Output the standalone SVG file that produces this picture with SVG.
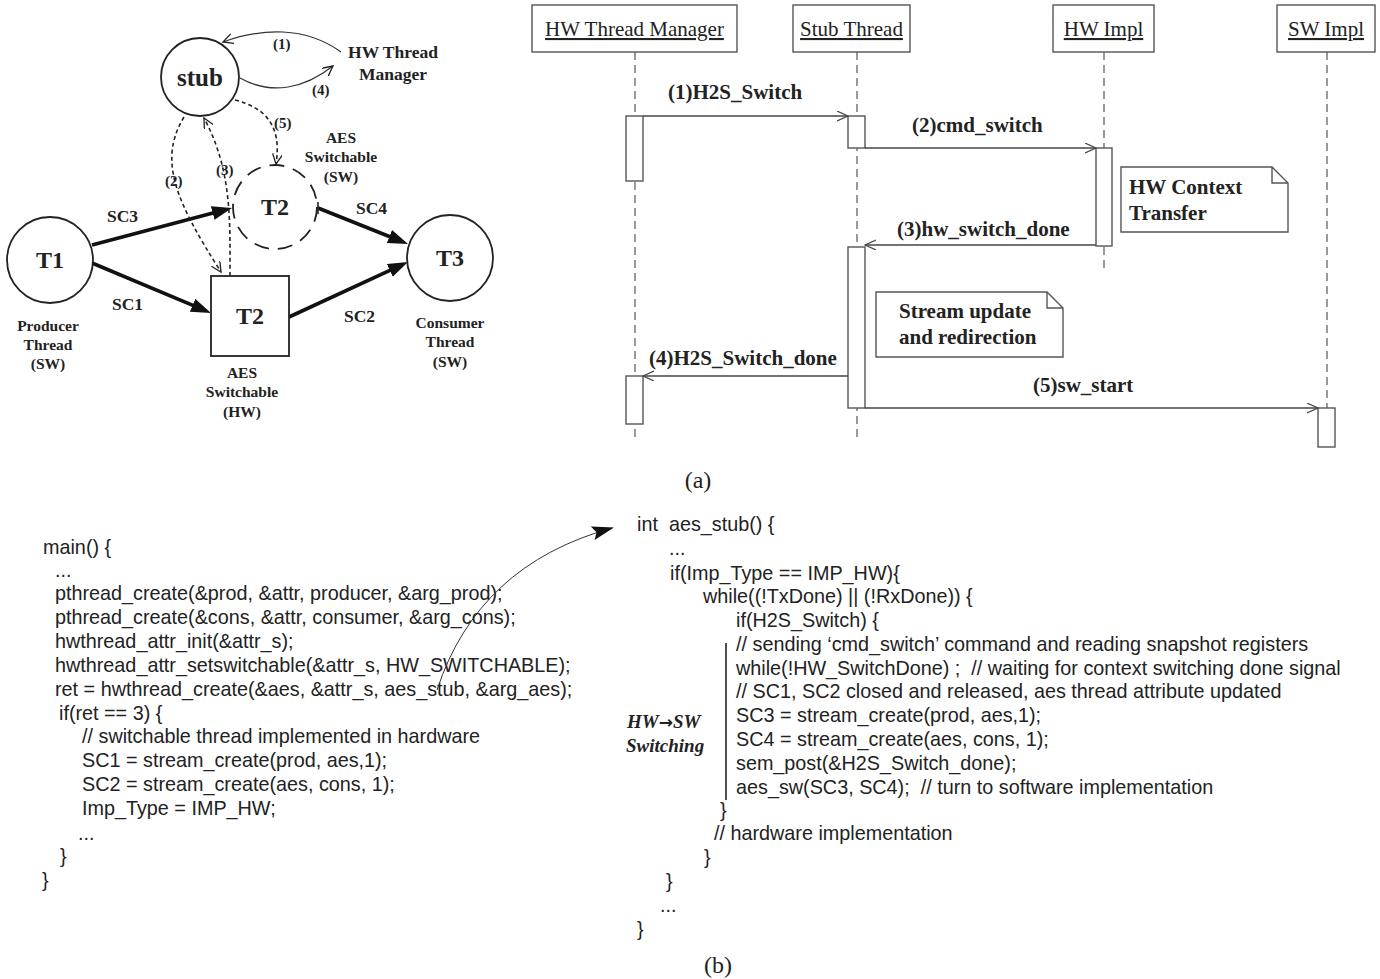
<svg xmlns="http://www.w3.org/2000/svg" width="1380" height="979" viewBox="0 0 1380 979">
<style>
.bg{fill:#ffffff}
.ser{font-family:"Liberation Serif","Times New Roman",serif;fill:#222}
.b{font-weight:bold}
.code{font-family:"Liberation Sans",Arial,sans-serif;font-size:19.8px;fill:#222;white-space:pre}
.node{fill:#fff;stroke:#222;stroke-width:1.8}
.thick{stroke:#111;stroke-width:3.6;fill:none}
.thin{stroke:#333;stroke-width:1.2;fill:none}
.dash{stroke:#222;stroke-width:1.6;fill:none;stroke-dasharray:4 3}
.life{stroke:#555;stroke-width:1.2;stroke-dasharray:8 5;fill:none}
.box{fill:#fff;stroke:#555;stroke-width:1.4}
.msg{stroke:#444;stroke-width:1.3;fill:none}
</style>
<defs>
<marker id="fill" markerUnits="userSpaceOnUse" markerWidth="22" markerHeight="16" refX="12" refY="7" orient="auto"><path d="M0,0 L20,7 L0,14 z" fill="#111"/></marker>
<marker id="open" markerUnits="userSpaceOnUse" markerWidth="14" markerHeight="14" refX="10" refY="5" orient="auto"><path d="M0,0 L10,5 L0,10" fill="none" stroke="#222" stroke-width="1.3"/></marker>
<marker id="open2" markerUnits="userSpaceOnUse" markerWidth="14" markerHeight="14" refX="11" refY="5" orient="auto"><path d="M0,0 L11,5 L0,10" fill="none" stroke="#444" stroke-width="1.2"/></marker>
<marker id="tri" markerUnits="userSpaceOnUse" markerWidth="24" markerHeight="16" refX="20" refY="7" orient="auto"><path d="M0,0 L22,7 L0,14 L4,7 z" fill="#111"/></marker>
</defs>
<rect class="bg" x="0" y="0" width="1380" height="979"/>

<!-- Top-left graph connectors -->
<g id="graph-connectors">
<path class="thick" d="M92,245 L224.3,210" marker-end="url(#fill)"/>
<path class="thick" d="M92,263 L203.6,309.9" marker-end="url(#fill)"/>
<path class="thick" d="M318,208 L400.6,241" marker-end="url(#fill)"/>
<line x1="318" y1="202" x2="318" y2="214" stroke="#222" stroke-width="1.6"/>
<path class="thick" d="M289,317 L400.7,265.4" marker-end="url(#fill)"/>
<path class="thin" d="M341,52 C305,26 262,28 223,42" marker-end="url(#open)"/>
<path class="thin" d="M240,78 C272,96 305,88 333,66" marker-end="url(#open)"/>
<path class="dash" d="M235,100 C266,108 282,126 276,164" marker-end="url(#open)"/>
<path class="dash" d="M184,117 C158,160 175,200 221,272" marker-end="url(#open)"/>
<path class="dash" d="M230,276 C230,220 232,170 204,118" marker-end="url(#open)"/>
</g>

<g id="node-stub"><circle class="node" cx="200" cy="77" r="39"/><text class="ser b" x="200" y="86" font-size="25" text-anchor="middle">stub</text></g>
<g id="node-hwtm"><text class="ser b" font-size="17.5" text-anchor="middle"><tspan x="393" y="58">HW Thread</tspan><tspan x="393" y="80">Manager</tspan></text></g>
<g id="node-t1"><circle class="node" cx="50" cy="260" r="43"/><text class="ser b" x="50" y="268" font-size="24" text-anchor="middle">T1</text>
<text class="ser b" font-size="15.5" text-anchor="middle"><tspan x="48" y="331">Producer</tspan><tspan x="48" y="350">Thread</tspan><tspan x="48" y="369">(SW)</tspan></text></g>
<g id="node-t2sw"><circle cx="275" cy="207" r="42" fill="#fff" stroke="#222" stroke-width="1.8" stroke-dasharray="15 9"/><text class="ser b" x="275" y="215" font-size="24" text-anchor="middle">T2</text>
<text class="ser b" font-size="15.5" text-anchor="middle"><tspan x="341" y="143">AES</tspan><tspan x="341" y="162">Switchable</tspan><tspan x="341" y="182">(SW)</tspan></text></g>
<g id="node-t2hw"><rect class="node" x="211" y="276" width="78" height="80"/><text class="ser b" x="250" y="324" font-size="24" text-anchor="middle">T2</text>
<text class="ser b" font-size="15.5" text-anchor="middle"><tspan x="242" y="378">AES</tspan><tspan x="242" y="397">Switchable</tspan><tspan x="242" y="417">(HW)</tspan></text></g>
<g id="node-t3"><circle class="node" cx="450" cy="258" r="43"/><text class="ser b" x="450" y="266" font-size="24" text-anchor="middle">T3</text>
<text class="ser b" font-size="15.5" text-anchor="middle"><tspan x="450" y="328">Consumer</tspan><tspan x="450" y="347">Thread</tspan><tspan x="450" y="367">(SW)</tspan></text></g>
<g id="graph-labels" class="ser b" font-size="17.5">
<text x="107" y="222">SC3</text><text x="112" y="310">SC1</text><text x="356" y="214">SC4</text><text x="344" y="322">SC2</text>
<text x="273" y="49" font-size="15">(1)</text><text x="312" y="95" font-size="15">(4)</text><text x="274" y="128" font-size="15">(5)</text><text x="216" y="175" font-size="15">(3)</text><text x="165" y="186" font-size="15">(2)</text>
</g>

<!-- Sequence diagram -->
<g id="lifelines">
<line class="life" x1="635" y1="52" x2="635" y2="440"/>
<line class="life" x1="857" y1="52" x2="857" y2="440"/>
<line class="life" x1="1104" y1="52" x2="1104" y2="268"/>
<line class="life" x1="1327" y1="52" x2="1327" y2="408"/>
</g>
<g id="hdr-hwtm"><rect class="box" x="532" y="5" width="205" height="47"/><text class="ser" x="634.5" y="36" font-size="21" text-anchor="middle" text-decoration="underline">HW Thread Manager</text></g>
<g id="hdr-stub"><rect class="box" x="793" y="5" width="117" height="47"/><text class="ser" x="851.5" y="36" font-size="21" text-anchor="middle" text-decoration="underline">Stub Thread</text></g>
<g id="hdr-hwimpl"><rect class="box" x="1053" y="5" width="101" height="47"/><text class="ser" x="1103.5" y="36" font-size="21" text-anchor="middle" text-decoration="underline">HW Impl</text></g>
<g id="hdr-swimpl"><rect class="box" x="1277" y="5" width="98" height="47"/><text class="ser" x="1326" y="36" font-size="21" text-anchor="middle" text-decoration="underline">SW Impl</text></g>
<g id="activations">
<rect class="box" x="626" y="116" width="17" height="65"/>
<rect class="box" x="848" y="116" width="17" height="32"/>
<rect class="box" x="1096" y="148" width="16" height="98"/>
<rect class="box" x="848" y="247" width="17" height="161"/>
<rect class="box" x="626" y="376" width="17" height="48"/>
<rect class="box" x="1318" y="408" width="17" height="39"/>
</g>
<g id="messages">
<path class="msg" d="M643,116 L848,116" marker-end="url(#open2)"/>
<path class="msg" d="M865,148 L1096,148" marker-end="url(#open2)"/>
<path class="msg" d="M1096,245 L865,245" marker-end="url(#open2)"/>
<path class="msg" d="M848,376 L643,376" marker-end="url(#open2)"/>
<path class="msg" d="M865,408 L1318,408" marker-end="url(#open2)"/>
</g>
<g id="msg-labels" class="ser b" font-size="21">
<text x="668" y="99">(1)H2S_Switch</text>
<text x="912" y="132">(2)cmd_switch</text>
<text x="897" y="236">(3)hw_switch_done</text>
<text x="649" y="365">(4)H2S_Switch_done</text>
<text x="1033" y="392">(5)sw_start</text>
</g>
<g id="note-hw"><path class="box" d="M1121,167 L1272,167 L1288,183 L1288,232 L1121,232 Z M1272,167 L1272,183 L1288,183"/>
<text class="ser b" font-size="21"><tspan x="1129" y="194">HW Context</tspan><tspan x="1129" y="220">Transfer</tspan></text></g>
<g id="note-stream"><path class="box" d="M876,292 L1047,292 L1063,308 L1063,357 L876,357 Z M1047,292 L1047,308 L1063,308"/>
<text class="ser b" font-size="21"><tspan x="899" y="318">Stream update</tspan><tspan x="899" y="344">and redirection</tspan></text></g>
<text id="cap-a" class="ser" x="698" y="488" font-size="24" text-anchor="middle">(a)</text>

<!-- Code (b) -->
<g id="code-main" class="code">
<text x="43" y="554">main() {</text>
<text x="55" y="577">...</text>
<text x="55" y="600">pthread_create(&amp;prod, &amp;attr, producer, &amp;arg_prod);</text>
<text x="55" y="624">pthread_create(&amp;cons, &amp;attr, consumer, &amp;arg_cons);</text>
<text x="55" y="648">hwthread_attr_init(&amp;attr_s);</text>
<text x="55" y="672">hwthread_attr_setswitchable(&amp;attr_s, HW_SWITCHABLE);</text>
<text x="55" y="696">ret = hwthread_create(&amp;aes, &amp;attr_s, aes_stub, &amp;arg_aes);</text>
<text x="59" y="720">if(ret == 3) {</text>
<text x="82" y="743">// switchable thread implemented in hardware</text>
<text x="82" y="767">SC1 = stream_create(prod, aes,1);</text>
<text x="82" y="791">SC2 = stream_create(aes, cons, 1);</text>
<text x="82" y="815">Imp_Type = IMP_HW;</text>
<text x="78" y="840">...</text>
<text x="60" y="863">}</text>
<text x="42" y="887">}</text>
</g>
<g id="code-link"><path d="M437,690 Q478,565 612,528" fill="none" stroke="#333" stroke-width="1" marker-end="url(#tri)"/></g>
<g id="code-stub" class="code">
<text x="637" y="531" xml:space="preserve">int  aes_stub() {</text>
<text x="669" y="555">...</text>
<text x="670" y="580">if(Imp_Type == IMP_HW){</text>
<text x="703" y="603">while((!TxDone) || (!RxDone)) {</text>
<text x="736" y="627">if(H2S_Switch) {</text>
<text x="736" y="651">// sending ‘cmd_switch’ command and reading snapshot registers</text>
<text x="736" y="675" xml:space="preserve">while(!HW_SwitchDone) ;  // waiting for context switching done signal</text>
<text x="736" y="698">// SC1, SC2 closed and released, aes thread attribute updated</text>
<text x="736" y="722">SC3 = stream_create(prod, aes,1);</text>
<text x="736" y="746">SC4 = stream_create(aes, cons, 1);</text>
<text x="736" y="770">sem_post(&amp;H2S_Switch_done);</text>
<text x="736" y="794" xml:space="preserve">aes_sw(SC3, SC4);  // turn to software implementation</text>
<text x="720" y="817">}</text>
<text x="714" y="840">// hardware implementation</text>
<text x="704" y="864">}</text>
<text x="666" y="888">}</text>
<text x="660" y="912">...</text>
<text x="637" y="936">}</text>
</g>
<line id="switch-bar" x1="726" y1="643" x2="726" y2="800" stroke="#222" stroke-width="1.6"/>
<g id="switch-label"><text class="ser b" font-size="19" font-style="italic"><tspan x="627" y="728">HW</tspan><tspan font-family="'DejaVu Sans',sans-serif" font-style="normal" font-size="17">→</tspan><tspan>SW</tspan><tspan x="626" y="752">Switching</tspan></text></g>
<text id="cap-b" class="ser" x="718" y="973" font-size="24" text-anchor="middle">(b)</text>
</svg>
